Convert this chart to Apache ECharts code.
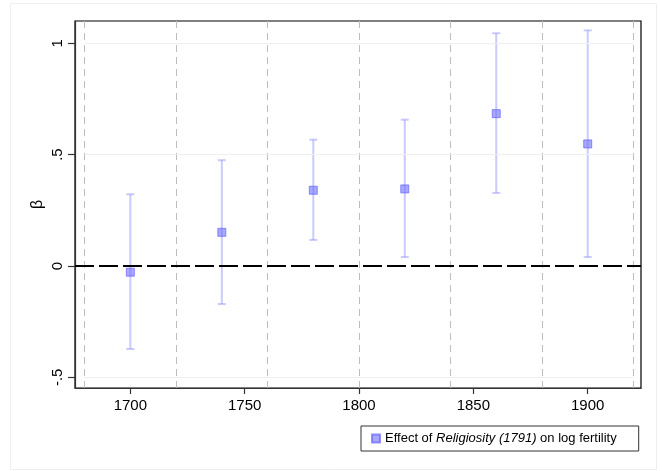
<!DOCTYPE html>
<html>
<head>
<meta charset="utf-8">
<script src="https://cdn.jsdelivr.net/npm/echarts@6/dist/echarts.min.js"></script>
<style>html,body{margin:0;padding:0;background:#fff;}#c{width:660px;height:471px;}</style>
</head>
<body>
<div id="c"></div>
<script>
// Data
var years = [1700, 1740, 1780, 1820, 1860, 1900];
var beta = [-0.028, 0.151, 0.340, 0.346, 0.684, 0.548];
var ciLow = [-0.373, -0.171, 0.117, 0.040, 0.328, 0.040];
var ciHigh = [0.322, 0.475, 0.567, 0.657, 1.045, 1.058];
var xTicks = [1700, 1750, 1800, 1850, 1900];
var yTicks = [-0.5, 0, 0.5, 1];
var yTickLabels = ['-.5', '0', '.5', '1'];
var vLines = [1680, 1720, 1760, 1800, 1840, 1880, 1920];
var hGrid = [-0.5, 0.5, 1];

var chart = echarts.init(document.getElementById('c'), null, {renderer: 'canvas'});
var font = 'Liberation Sans, Arial, Helvetica, sans-serif';

var errData = years.map(function (y, i) { return [y, ciLow[i], ciHigh[i]]; });
var pts = years.map(function (y, i) { return [y, beta[i]]; });

var option = {
  backgroundColor: '#ffffff',
  animation: false,
  graphic: [{
    type: 'rect', left: 10, top: 3, z: -10,
    shape: {width: 646, height: 466},
    style: {fill: '#ffffff', stroke: '#efefef', lineWidth: 1}
  }],
  grid: {left: 75, top: 21, width: 566, height: 367, show: true, borderColor: '#000', borderWidth: 1.2, backgroundColor: 'transparent'},
  xAxis: {
    type: 'value', min: 1675.8, max: 1923.3,
    axisLine: {show: true, onZero: false, lineStyle: {color: '#333', width: 1.2}},
    axisTick: {show: true, length: 6, customValues: xTicks, lineStyle: {color: '#333', width: 1.2}},
    axisLabel: {customValues: xTicks, margin: 10, fontSize: 15, color: '#000', fontFamily: font,
      formatter: function (v) { return String(Math.round(v)); }},
    splitLine: {show: false}
  },
  yAxis: {
    type: 'value', min: -0.548, max: 1.1,
    name: 'β', nameLocation: 'middle', nameGap: 29, nameRotate: 90, nameMoveOverlap: false,
    nameTextStyle: {fontSize: 16, color: '#000', fontFamily: font},
    axisLine: {show: true, onZero: false, lineStyle: {color: '#333', width: 1.2}},
    axisTick: {show: true, length: 7, customValues: yTicks, lineStyle: {color: '#333', width: 1.2}},
    axisLabel: {
      customValues: yTicks, rotate: 90, margin: 10, fontSize: 15, color: '#000', fontFamily: font,
      formatter: function (v) {
        for (var i = 0; i < yTicks.length; i++) { if (Math.abs(yTicks[i] - v) < 1e-6) return yTickLabels[i]; }
        return '';
      }
    },
    splitLine: {show: false}
  },
  legend: {
    show: true,
    left: 361, top: 426,
    orient: 'horizontal',
    padding: [6, 22, 6, 10],
    itemWidth: 8, itemHeight: 8, itemGap: 5,
    borderColor: '#333', borderWidth: 1, borderRadius: 0,
    backgroundColor: '#fff',
    data: [{name: 'effect', icon: 'rect'}],
    formatter: function () {
      return '{n|Effect of }{i|Religiosity (1791)}{n| on log fertility}';
    },
    textStyle: {
      fontSize: 13, color: '#000', fontFamily: font, padding: [0, 0, 0, 0],
      rich: {
        n: {fontSize: 13, color: '#000', fontFamily: font},
        i: {fontSize: 13, color: '#000', fontFamily: font, fontStyle: 'italic'}
      }
    }
  },
  series: [
    {
      type: 'line', name: 'guides', data: [], silent: true,
      markLine: {
        silent: true, symbol: 'none', label: {show: false}, animation: false,
        data: vLines.map(function (v) {
          return {xAxis: v, lineStyle: {color: '#bdbdbd', type: [7, 5], width: 1}};
        }).concat(hGrid.map(function (v) {
          return [{coord: [vLines[0], v], lineStyle: {color: '#efefef', type: 'solid', width: 1}}, {coord: [vLines[vLines.length - 1], v]}];
        }))
      },
      z: 1
    },
    {
      type: 'line', name: 'zero', data: [], silent: true,
      markLine: {
        silent: true, symbol: 'none', label: {show: false}, animation: false,
        data: [{yAxis: 0, lineStyle: {color: '#000', type: [19, 5], width: 1.8}}]
      },
      z: 2
    },
    {
      type: 'custom', name: 'ci', data: errData, z: 3,
      renderItem: function (params, api) {
        var x = api.value(0);
        var lo = api.coord([x, api.value(1)]);
        var hi = api.coord([x, api.value(2)]);
        var cap = 4;
        var st = {stroke: 'rgba(150,150,255,0.5)', lineWidth: 2};
        return {
          type: 'group',
          children: [
            {type: 'line', shape: {x1: lo[0], y1: lo[1], x2: hi[0], y2: hi[1]}, style: st},
            {type: 'line', shape: {x1: lo[0] - cap, y1: lo[1], x2: lo[0] + cap, y2: lo[1]}, style: st},
            {type: 'line', shape: {x1: hi[0] - cap, y1: hi[1], x2: hi[0] + cap, y2: hi[1]}, style: st}
          ]
        };
      }
    },
    {
      type: 'scatter', name: 'effect', data: pts, z: 4,
      symbol: 'rect', symbolSize: 8,
      itemStyle: {color: 'rgba(110,110,255,0.75)', borderColor: 'rgba(90,90,255,0.8)', borderWidth: 1}
    }
  ]
};
chart.setOption(option);
</script>
</body>
</html>
